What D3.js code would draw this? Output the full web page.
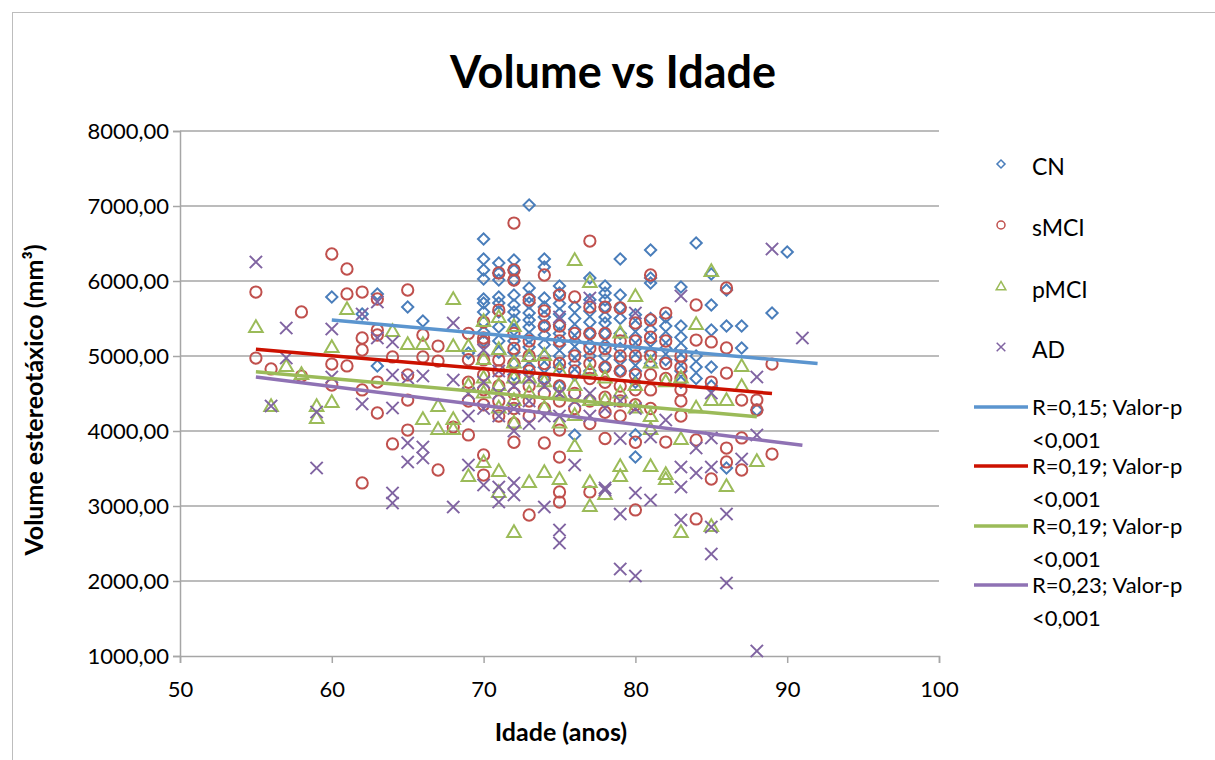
<!DOCTYPE html>
<html lang="pt">
<head>
<meta charset="utf-8">
<title>Volume vs Idade</title>
<script src="https://d3js.org/d3.v7.min.js"></script>
<style>
  body { margin: 0; background: #fff; }
  text { font-family: Lato, "Open Sans", sans-serif; fill: #000; }
</style>
</head>
<body>
<svg width="1215" height="760"></svg>
<script>
// data: [idade, volume]
const cn = [
  [60,5787],[62,5560],[63,5827],[63,4867],[65,5653],[66,5467],[69,5040],
  [70,6560],[70,6293],[70,6147],[70,6027],[70,5760],[70,5707],[70,5587],[70,5453],[70,5320],[70,5200],
  [71,6240],[71,6107],[71,6013],[71,5787],[71,5707],[71,5587],[71,5387],[71,5200],[71,5050],
  [72,6280],[72,6147],[72,6013],[72,5813],[72,5680],[72,5587],[72,5480],[72,5350],[72,5200],[72,5050],[72,4900],[72,4750],
  [73,7013],[73,5907],[73,5787],[73,5707],[73,5573],[73,5480],[73,5387],[73,5250],[73,5120],[73,4980],[73,4850],
  [74,6293],[74,6187],[74,5773],[74,5653],[74,5520],[74,5400],[74,5280],[74,5150],[74,5000],[74,4850],[74,4700],
  [75,5933],[75,5840],[75,5700],[75,5560],[75,5420],[75,5300],[75,5150],[75,5000],[75,4850],[75,4600],
  [76,5653],[76,5500],[76,5350],[76,5200],[76,5050],[76,4900],[76,4750],[76,3947],
  [77,6040],[77,5750],[77,5600],[77,5450],[77,5300],[77,5150],[77,5000],[77,4800],
  [78,5933],[78,5840],[78,5747],[78,5653],[78,5520],[78,5440],[78,5300],[78,5150],[78,5000],[78,4850],
  [79,6293],[79,5813],[79,5650],[79,5500],[79,5300],[79,5100],[79,4950],[79,4800],
  [80,5550],[80,5400],[80,5250],[80,5100],[80,4950],[80,4800],[80,4650],[80,3950],[80,3653],
  [81,6413],[81,6040],[81,5973],[81,5500],[81,5350],[81,5200],[81,5050],[81,4900],
  [82,5520],[82,5400],[82,5250],[82,5100],[82,4950],
  [83,5920],[83,5400],[83,5250],[83,5100],[83,4950],[83,4800],[83,4650],
  [84,6507],[84,5000],[84,4853],[84,4700],
  [85,6093],[85,5680],[85,5347],[85,4853],[85,4600],
  [86,5880],[86,5400],[86,3507],[87,5400],[87,5107],[88,4280],[89,5573],[90,6387]
];
const smci = [
  [55,5853],[55,4973],[56,4827],[58,5587],[58,4733],[60,6360],[60,4893],[60,4613],
  [61,6160],[61,5827],[61,4867],[62,5853],[62,5240],[62,5080],[62,4547],[62,3307],
  [63,5760],[63,5347],[63,5280],[63,4653],[63,4240],[64,4987],[64,3827],
  [65,5880],[65,4747],[65,4413],[65,4013],[66,5280],[66,4987],[67,5133],[67,4933],[67,3480],[68,4053],
  [69,5300],[69,4950],[69,4650],[69,4400],[69,3947],
  [70,5453],[70,5240],[70,5187],[70,4947],[70,4750],[70,4550],[70,4350],[70,3680],[70,3413],
  [71,6107],[71,5613],[71,4947],[71,4800],[71,4600],[71,4400],[71,4200],
  [72,6773],[72,6147],[72,6013],[72,5300],[72,5100],[72,4900],[72,4700],[72,4500],[72,4300],[72,4100],[72,3850],
  [73,5747],[73,5200],[73,5000],[73,4800],[73,4600],[73,4400],[73,4200],[73,2880],
  [74,6080],[74,5600],[74,5400],[74,4900],[74,4700],[74,4500],[74,4300],[74,3840],
  [75,5813],[75,5400],[75,5200],[75,4900],[75,4600],[75,4400],[75,4013],[75,3653],[75,3187],[75,3053],
  [76,5787],[76,5300],[76,5000],[76,4800],[76,4500],[76,4300],
  [77,6533],[77,5653],[77,5300],[77,5100],[77,4900],[77,4700],[77,4400],[77,4100],[77,3187],
  [78,5653],[78,5300],[78,5100],[78,4850],[78,4650],[78,4450],[78,4250],[78,3900],
  [79,5640],[79,5200],[79,5000],[79,4800],[79,4600],[79,4400],[79,4200],
  [80,5440],[80,5200],[80,5000],[80,4750],[80,4550],[80,4350],[80,3850],[80,2947],
  [81,6080],[81,5480],[81,5250],[81,5000],[81,4750],[81,4547],[81,4300],
  [82,5573],[82,5200],[82,4900],[82,4700],[82,3853],
  [83,5000],[83,4850],[83,4700],[83,4550],[83,4400],[83,4200],
  [84,5680],[84,5213],[84,3880],[84,2827],[85,5187],[85,4653],[85,3360],
  [86,5907],[86,5107],[86,4773],[86,3773],[86,3587],[87,4413],[87,3907],[87,3480],
  [88,4413],[88,4280],[89,4893],[89,3693]
];
const pmci = [
  [55,5373],[56,4320],[57,4853],[58,4747],[59,4320],[59,4160],[60,5107],[60,4373],[61,5613],
  [64,5320],[65,5147],[66,5147],[66,4147],[67,4320],[67,4013],[68,5747],[68,5120],[68,4147],[68,4013],
  [69,5120],[69,4600],[69,3387],[70,5453],[70,4947],[70,4700],[70,4500],[70,3573],
  [71,5507],[71,5080],[71,4600],[71,4300],[71,3453],[71,3173],
  [72,5387],[72,4900],[72,4700],[72,4400],[72,4100],[72,2640],
  [73,4987],[73,4700],[73,4500],[73,3307],[74,5000],[74,4650],[74,4300],[74,3440],
  [75,4800],[75,4500],[75,4100],[75,3347],[76,6267],[76,4600],[76,4200],[76,3787],
  [77,5973],[77,4800],[77,4400],[77,3307],[77,2987],[78,4700],[78,4400],[78,3147],
  [79,5300],[79,4500],[79,3520],[79,3387],[80,5787],[80,4600],[80,4300],
  [81,4900],[81,4187],[81,4013],[81,3520],[82,4650],[82,3413],[82,3347],
  [83,4700],[83,3880],[83,2640],[84,5413],[84,4300],[85,6120],[85,4400],[85,2720],
  [86,4400],[86,3253],[87,4853],[87,4587],[88,3587]
];
const ad = [
  [55,6253],[56,4333],[57,5373],[57,4973],[59,4253],[59,3507],[60,5360],[60,4720],
  [62,5560],[62,4360],[63,5720],[63,5240],[64,5187],[64,4747],[64,4307],[64,3173],[64,3040],
  [65,4707],[65,3840],[65,3587],[66,4733],[66,3787],[66,3640],[68,5440],[68,4680],[68,2987],
  [69,4500],[69,4200],[69,3547],[70,5080],[70,4650],[70,4300],[70,3280],
  [71,4800],[71,4500],[71,4200],[71,3253],[71,3053],
  [72,4600],[72,4300],[72,4000],[72,3307],[72,3147],[73,4700],[73,4400],[73,4100],
  [74,4600],[74,4200],[74,2987],[75,5520],[75,4500],[75,4200],[75,2680],[75,2507],
  [76,4400],[76,3547],[77,5773],[77,4500],[77,4200],[78,4300],[78,3240],[78,3213],
  [79,4400],[79,3900],[79,2893],[79,2160],[80,5573],[80,4300],[80,3173],[80,2067],
  [81,3920],[81,3080],[82,4147],[83,5800],[83,3520],[83,3253],[83,2813],[84,3773],[84,3440],
  [85,4507],[85,3907],[85,3520],[85,2720],[85,2360],[86,2893],[86,1973],[87,3627],
  [88,4720],[88,3947],[88,1067],[89,6427],[91,5240]
];

const seriesNames = ["CN", "sMCI", "pMCI", "AD"];
const seriesColors = ["#4a7ebb", "#c0504d", "#9bbb59", "#8064a2"];
const trendColors = ["#5b95cf", "#cc1100", "#9bbb59", "#8f72b4"];
// trend line ends: [idade inicial, volume inicial, idade final, volume final]
const trends = [
  [60, 5480, 92, 4900],
  [55, 5090, 89, 4500],
  [55, 4790, 88, 4190],
  [55, 4720, 91, 3810]
];
const trendLabels = ["R=0,15; Valor-p", "R=0,19; Valor-p", "R=0,19; Valor-p", "R=0,23; Valor-p"];
const xTicks = [50, 60, 70, 80, 90, 100];
const yTicks = [1000, 2000, 3000, 4000, 5000, 6000, 7000, 8000];

const svg = d3.select("svg");
svg.append("rect").attr("x", 12.5).attr("y", 12.5).attr("width", 1215).attr("height", 760)
  .attr("fill", "#fff").attr("stroke", "#bdbdbd").attr("stroke-width", 1);

const x = d3.scaleLinear().domain([50, 100]).range([180, 939]);
const y = d3.scaleLinear().domain([1000, 8000]).range([656, 131]);
const fmt = v => d3.format(".2f")(v).replace(".", ",");

// gridlines
svg.append("g").selectAll("line").data(yTicks.slice(1)).join("line")
  .attr("x1", x(50)).attr("x2", x(100))
  .attr("y1", d => y(d)).attr("y2", d => y(d))
  .attr("stroke", "#a6a6a6").attr("stroke-width", 1.5);

const yAxis = svg.append("g").attr("transform", `translate(${x(50)},0)`)
  .call(d3.axisLeft(y).tickValues(yTicks).tickFormat(fmt).tickSize(7).tickPadding(4));
const xAxis = svg.append("g").attr("transform", `translate(0,${y(1000)})`)
  .call(d3.axisBottom(x).tickValues(xTicks).tickSize(7).tickPadding(18));
[yAxis, xAxis].forEach(a => {
  a.select(".domain").attr("stroke", "#a6a6a6").attr("stroke-width", 1.5);
  a.selectAll(".tick line").attr("stroke", "#a6a6a6").attr("stroke-width", 1.5);
  a.selectAll("text").attr("font-family", "Lato, sans-serif").attr("font-size", 22).attr("fill", "#000");
});
yAxis.selectAll("text").attr("dy", "0.35em");

const symbolTypes = [d3.symbolSquare, d3.symbolCircle, d3.symbolTriangle, d3.symbolX];
const symbolSizes = [64, 100, 80, 100];
const rotate = [45, 0, 0, 0];
const allSeries = [cn, smci, pmci, ad];

allSeries.forEach((data, i) => {
  const sym = d3.symbol().type(symbolTypes[i]).size(symbolSizes[i]);
  svg.append("g").selectAll("path").data(data).join("path")
    .attr("d", sym)
    .attr("transform", d => `translate(${x(d[0])},${y(d[1])}) rotate(${rotate[i]})`)
    .attr("fill", "none")
    .attr("stroke", seriesColors[i])
    .attr("stroke-width", 2);
});

// trend lines
svg.append("g").selectAll("line").data(trends).join("line")
  .attr("x1", d => x(d[0])).attr("y1", d => y(d[1]))
  .attr("x2", d => x(d[2])).attr("y2", d => y(d[3]))
  .attr("stroke", (d, i) => trendColors[i]).attr("stroke-width", 3.5);

// title + axis titles
svg.append("text").attr("x", 613).attr("y", 88).attr("text-anchor", "middle")
  .attr("font-size", 45).attr("font-weight", "bold").text("Volume vs Idade");
svg.append("text").attr("x", 561).attr("y", 741).attr("text-anchor", "middle")
  .attr("font-size", 25).attr("font-weight", "bold").text("Idade (anos)");
svg.append("text").attr("transform", "translate(43,400) rotate(-90)").attr("text-anchor", "middle")
  .attr("font-size", 25).attr("font-weight", "bold").text("Volume estereotáxico (mm³)");

// legend
const leg = svg.append("g");
const legY = [167, 228, 290, 350];
seriesNames.forEach((name, i) => {
  const sym = d3.symbol().type(symbolTypes[i]).size(symbolSizes[i] * 0.5);
  leg.append("path").attr("d", sym)
    .attr("transform", `translate(1001,${legY[i] - 3}) rotate(${rotate[i]})`)
    .attr("fill", "none").attr("stroke", seriesColors[i]).attr("stroke-width", 1.5);
  leg.append("text").attr("x", 1032).attr("y", legY[i]).attr("dy", "0.35em")
    .attr("font-size", 23).text(name);
});
const lineY = [407, 466, 526, 585];
trendLabels.forEach((t, i) => {
  leg.append("line").attr("x1", 974).attr("x2", 1028).attr("y1", lineY[i]).attr("y2", lineY[i])
    .attr("stroke", trendColors[i]).attr("stroke-width", 3.5);
  leg.append("text").attr("x", 1032).attr("y", lineY[i]).attr("dy", "0.35em")
    .attr("font-size", 22).text(t);
  leg.append("text").attr("x", 1032).attr("y", lineY[i] + 33).attr("dy", "0.35em")
    .attr("font-size", 22).text("<0,001");
});
</script>
</body>
</html>
